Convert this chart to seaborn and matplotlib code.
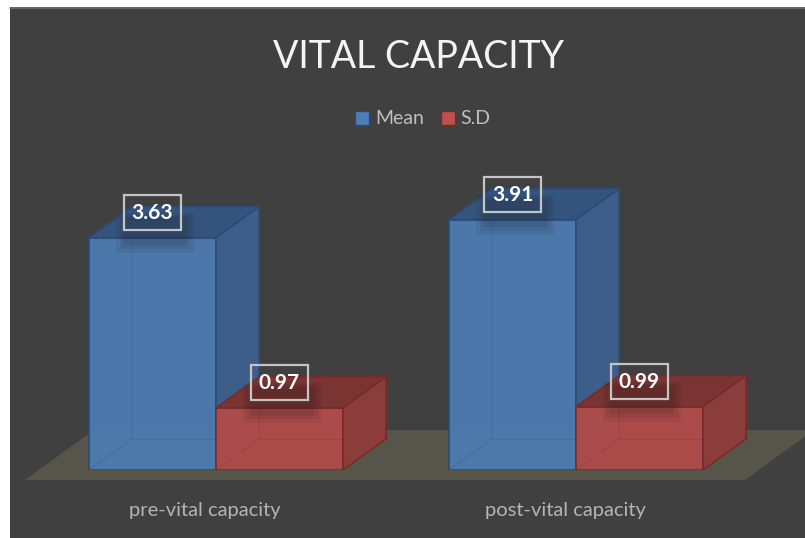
import numpy as np
import pandas as pd
import matplotlib
matplotlib.use('Agg')
import matplotlib.pyplot as plt
import matplotlib.transforms as mtransforms
from matplotlib.patches import Polygon, Rectangle, Patch
from matplotlib.lines import Line2D
import seaborn as sns

sns.set_theme(style='white')
plt.rcParams['font.family'] = ['Lato', 'DejaVu Sans']

#~~~~~~~~~~~~~~~~~~~~~~~~~~~~~~~~~~~~~~~~~~#
### Define data.
#~~~~~~~~~~~~~~~~~~~~~~~~~~~~~~~~~~~~~~~~~~#

categories = ['pre-vital capacity', 'post-vital capacity']
series = ['Mean', 'S.D']
mean_values = [3.63, 3.91]
sd_values = [0.97, 0.99]
title = 'VITAL CAPACITY'

df = pd.DataFrame({'category': categories * 2,
                   'series': [series[0]] * 2 + [series[1]] * 2,
                   'value': mean_values + sd_values})

#~~~~~~~~~~~~~~~~~~~~~~~~~~~~~~~~~~~~~~~~~~#
### Define styles.
#~~~~~~~~~~~~~~~~~~~~~~~~~~~~~~~~~~~~~~~~~~#

## Face colors (front, top, side, edge).
front = {'Mean': '#4c7aae', 'S.D': '#b04c4a'}
top = {'Mean': '#35547d', 'S.D': '#7a3432'}
side = {'Mean': '#3d5e88', 'S.D': '#8a3d3b'}
edge = {'Mean': '#2b4c78', 'S.D': '#782b29'}
legend_colors = {'Mean': '#4f7dba', 'S.D': '#c0504d'}

bgcolor = '#404040'
floorcolor = '#57544a'
labelcolor = '#b4b4b4'

## Pixel geometry.
W, H = 805, 538
px_per_cat = 360.0
px_per_unit = 64.0
depth_x = 0.34    # fraction of bar width
depth_y = 0.485   # value units

#~~~~~~~~~~~~~~~~~~~~~~~~~~~~~~~~~~~~~~~~~~#
### Initialize canvas.
#~~~~~~~~~~~~~~~~~~~~~~~~~~~~~~~~~~~~~~~~~~#

fig = plt.figure(figsize=(W / 100, H / 100), dpi=100)
fig.patch.set_facecolor('white')
fig.add_artist(Rectangle((10 / W, 0), 1, (H - 7) / H, transform=fig.transFigure,
                         fc=bgcolor, ec='none', zorder=-5))
fig.add_artist(Line2D([10 / W, 1], [(H - 7.5) / H] * 2, transform=fig.transFigure,
                      color='#707070', lw=1.2, zorder=-4))

ax = fig.add_axes([0, 68 / H, 1, 470 / H])
ax.set_facecolor('none')

#~~~~~~~~~~~~~~~~~~~~~~~~~~~~~~~~~~~~~~~~~~#
### Plot bars.
#~~~~~~~~~~~~~~~~~~~~~~~~~~~~~~~~~~~~~~~~~~#

sns.barplot(data=df, x='category', y='value', hue='series', hue_order=series,
            palette=front, width=0.705, gap=0, legend=False, ax=ax,
            edgecolor='none', linewidth=0, saturation=1)

ax.set_xlim(-216 / px_per_cat, (W - 216) / px_per_cat)
ax.set_ylim(0, 470 / px_per_unit)

## Floor.
floor_front, floor_back = -10 / px_per_unit, 40 / px_per_unit
fx0, fx1 = -191 / px_per_cat, 529 / px_per_cat
fdx = 69 / px_per_cat
ax.add_patch(Polygon([(fx0, floor_front), (fx1, floor_front), (fx1 + fdx, floor_back),
                      (fx0 + fdx, floor_back)], closed=True, fc=floorcolor, ec='none',
                     zorder=0.5, clip_on=False))

## 3D faces.
bars = sorted(ax.patches[:4], key=lambda p: p.get_x())
for k, bar in enumerate(bars):
    s = series[k % 2]
    x0, w, h = bar.get_x(), bar.get_width(), bar.get_height()
    dx, dy = w * depth_x, depth_y
    z = 2 + k % 2
    bar.set(zorder=z, edgecolor=edge[s], linewidth=1.2, alpha=0.97)
    ## Hidden back edges.
    ax.plot([x0, x0 + dx, x0 + dx], [0, dy, h + dy], color=edge[s], lw=0.8, alpha=0.22, zorder=z)
    ax.plot([x0 + dx, x0 + w + dx], [dy, dy], color=edge[s], lw=0.8, alpha=0.22, zorder=z)
    ## Top face.
    ax.add_patch(Polygon([(x0, h), (x0 + w, h), (x0 + w + dx, h + dy), (x0 + dx, h + dy)],
                         closed=True, fc=top[s], ec=edge[s], lw=1.2, zorder=z))
    ## Side face.
    ax.add_patch(Polygon([(x0 + w, 0), (x0 + w + dx, dy), (x0 + w + dx, h + dy), (x0 + w, h)],
                         closed=True, fc=side[s], ec=edge[s], lw=1.2, zorder=z))
    ## Soft shadow under the value label (stacked layers fake a blur).
    for grow, a in [(0.06, 0.07), (0.03, 0.08), (0.0, 0.09)]:
        ax.add_patch(Rectangle((x0 + w * (0.27 - grow), h - 0.12 - grow * 2), w * (0.5 + 2 * grow),
                               0.45 + grow * 3, fc='#151515', ec='none', alpha=a, zorder=z + 0.1))
    ## Value label.
    ax.text(x0 + w / 2, h + 0.39, f'{h:.2f}', ha='center', va='center', color='white',
            fontsize=15, fontweight='bold', zorder=10,
            bbox=dict(boxstyle='square,pad=0.36', fc='none', ec='#c4c4c4', lw=1.6))

#~~~~~~~~~~~~~~~~~~~~~~~~~~~~~~~~~~~~~~~~~~#
### Axes, labels, legend.
#~~~~~~~~~~~~~~~~~~~~~~~~~~~~~~~~~~~~~~~~~~#

ax.set(xlabel='', ylabel='', yticks=[])
ax.set_xticks(range(len(categories)))
ax.set_xticklabels(categories, color=labelcolor, fontsize=14.5)
ax.tick_params(axis='x', length=0, pad=23)
shift = mtransforms.ScaledTranslation(-11 / 100, 0, fig.dpi_scale_trans)
for lab in ax.get_xticklabels():
    lab.set_transform(lab.get_transform() + shift)
sns.despine(ax=ax, left=True, bottom=True)

fig.text(418 / W, 1 - 68 / H, title, ha='center', va='baseline', color='#f4f4f4', fontsize=27)

handles = [Patch(fc=legend_colors[s], ec=edge[s], lw=1) for s in series]
fig.legend(handles, series, loc='center', bbox_to_anchor=(423 / W, 1 - 119 / H), ncol=2,
           frameon=False, fontsize=14, labelcolor='#bfbfbf', handlelength=0.7, handleheight=0.7,
           handletextpad=0.3, columnspacing=0.9, borderpad=0)

plt.savefig('out.png', dpi=100, facecolor=fig.get_facecolor())
